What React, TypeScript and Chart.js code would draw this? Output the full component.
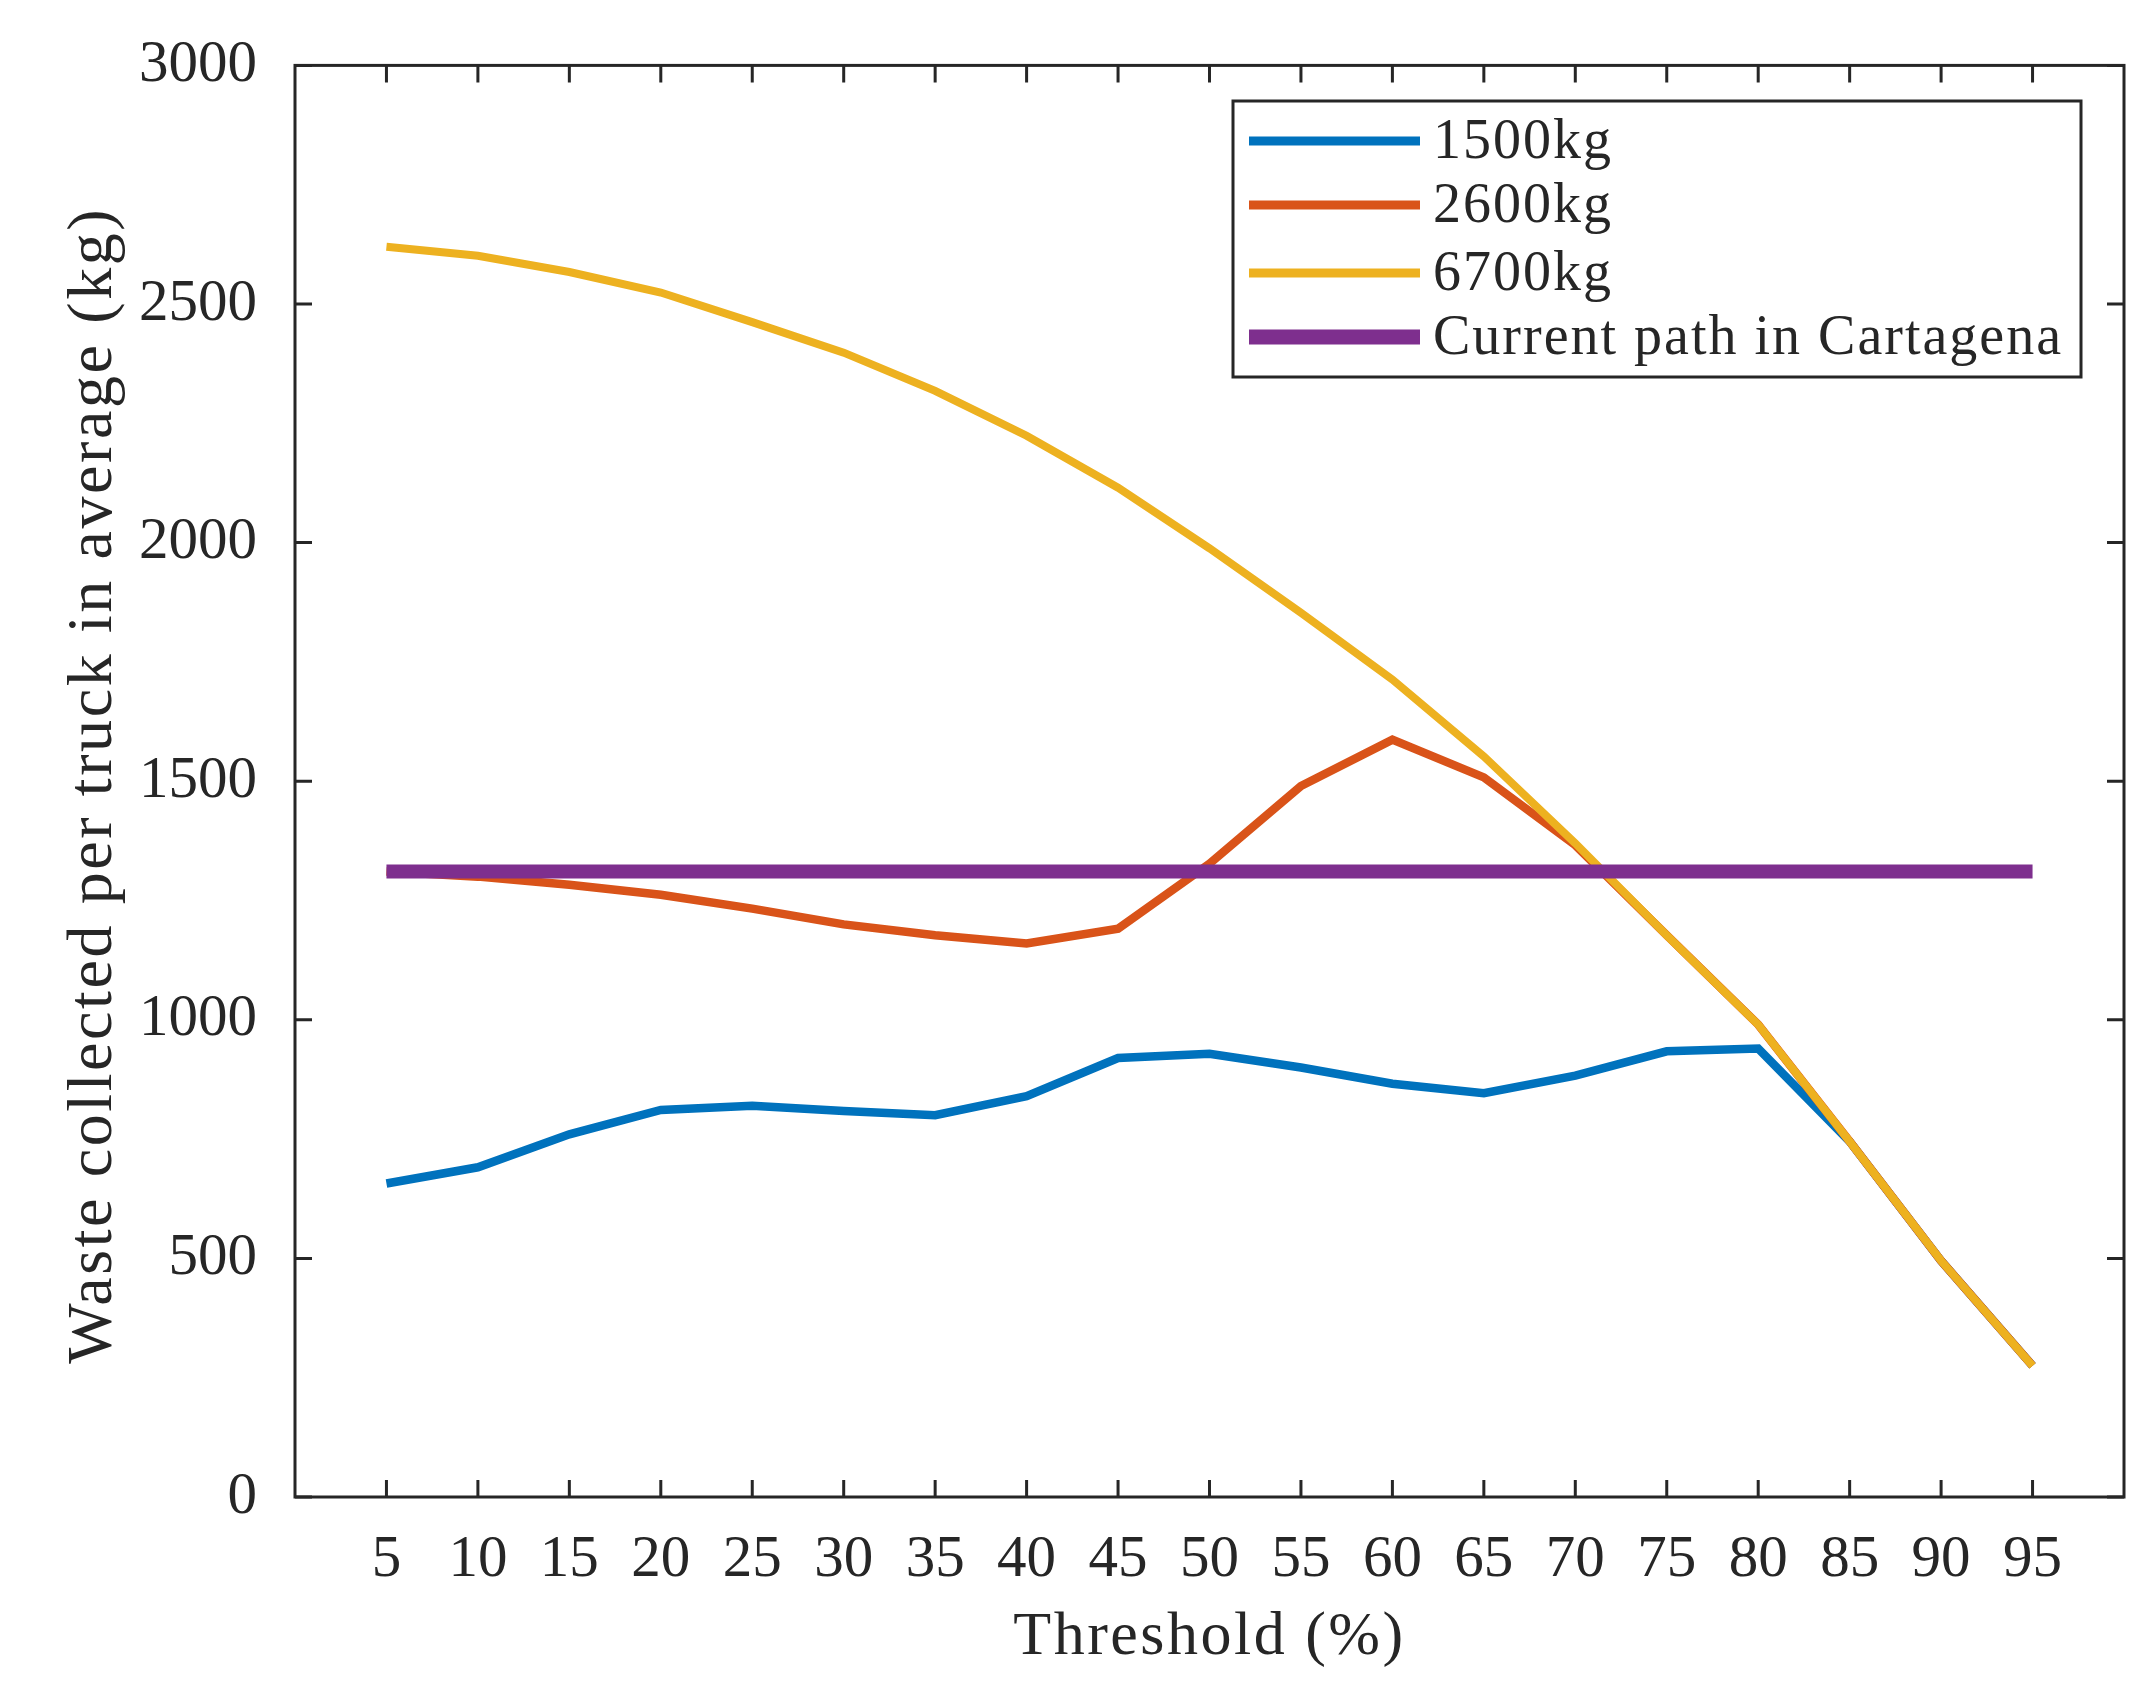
import React, { useEffect, useRef } from "react";
import { Chart, registerables } from "chart.js";

Chart.register(...registerables);

const thresholds = [5, 10, 15, 20, 25, 30, 35, 40, 45, 50, 55, 60, 65, 70, 75, 80, 85, 90, 95];
const truck1500 = [657, 691, 760, 811, 820, 809, 800, 840, 920, 929, 900, 866, 846, 883, 934, 940, 745, 495, 275];
const truck2600 = [1311, 1300, 1283, 1262, 1233, 1200, 1177, 1160, 1191, 1327, 1490, 1587, 1508, 1366, 1177, 990, 745, 495, 275];
const truck6700 = [2620, 2601, 2567, 2524, 2462, 2398, 2318, 2224, 2115, 1988, 1853, 1713, 1552, 1370, 1177, 990, 745, 495, 275];
const currentPath = [1311, 1311, 1311, 1311, 1311, 1311, 1311, 1311, 1311, 1311, 1311, 1311, 1311, 1311, 1311, 1311, 1311, 1311, 1311];
const yTicks = [0, 500, 1000, 1500, 2000, 2500, 3000];
const seriesLabels = ["1500kg", "2600kg", "6700kg", "Current path in Cartagena"];
const xTitle = "Threshold (%)";
const yTitle = "Waste collected per truck in average (kg)";

const W = 2150;
const H = 1695;
const FONT = "'Liberation Serif', 'DejaVu Serif', serif";
const INK = "#262626";

const toPoints = (ys: number[]) => thresholds.map((x, i) => ({ x, y: ys[i] }));

const framePlugin = {
  id: "frame",
  afterDatasetsDraw(chart: any) {
    const { ctx, chartArea: a, scales } = chart;
    const xs = scales.x;
    const ys = scales.y;
    const tl = 17;
    ctx.save();
    ctx.strokeStyle = INK;
    ctx.lineWidth = 3;
    ctx.beginPath();
    xs.ticks.forEach((t: any) => {
      const px = xs.getPixelForValue(t.value);
      ctx.moveTo(px, a.bottom);
      ctx.lineTo(px, a.bottom - tl);
      ctx.moveTo(px, a.top);
      ctx.lineTo(px, a.top + tl);
    });
    ys.ticks.forEach((t: any) => {
      const py = ys.getPixelForValue(t.value);
      ctx.moveTo(a.left, py);
      ctx.lineTo(a.left + tl, py);
      ctx.moveTo(a.right, py);
      ctx.lineTo(a.right - tl, py);
    });
    ctx.stroke();
    ctx.strokeRect(a.left, a.top, a.right - a.left, a.bottom - a.top);
    ctx.restore();
  },
  afterDraw(chart: any) {
    const { ctx, chartArea: a } = chart;
    const ds = chart.data.datasets;
    ctx.save();
    // axis titles
    ctx.fillStyle = INK;
    ctx.textAlign = "center";
    ctx.textBaseline = "middle";
    (ctx as any).letterSpacing = "2.5px";
    ctx.font = `62px ${FONT}`;
    ctx.fillText(xTitle, (a.left + a.right) / 2, 1638);
    ctx.save();
    ctx.translate(94, (a.top + a.bottom) / 2 + 4);
    ctx.rotate(-Math.PI / 2);
    (ctx as any).letterSpacing = "2.6px";
    ctx.font = `64px ${FONT}`;
    ctx.fillText(yTitle, 0, 0);
    ctx.restore();

    // legend
    const bx = 1233;
    const by = 101;
    const bw = 848;
    const bh = 276;
    ctx.fillStyle = "#ffffff";
    ctx.fillRect(bx, by, bw, bh);
    ctx.strokeStyle = INK;
    ctx.lineWidth = 3;
    ctx.strokeRect(bx, by, bw, bh);
    ctx.font = `56px ${FONT}`;
    (ctx as any).letterSpacing = "2px";
    ctx.textBaseline = "middle";
    ctx.textAlign = "left";
    const rows = [141, 205, 273, 337];
    ds.forEach((d: any, i: number) => {
      const y = rows[i];
      ctx.strokeStyle = d.borderColor;
      ctx.lineWidth = i === 3 ? 15 : 9;
      ctx.lineCap = "butt";
      ctx.beginPath();
      ctx.moveTo(1249, y);
      ctx.lineTo(1420, y);
      ctx.stroke();
      ctx.fillStyle = INK;
      ctx.fillText(d.label, 1433, y + 2);
    });
    ctx.restore();
  },
};

export default function App() {
  const ref = useRef<HTMLCanvasElement | null>(null);
  useEffect(() => {
    if (!ref.current) return;
    const chart = new Chart(ref.current, {
      type: "line",
      data: {
        datasets: [
          { label: seriesLabels[0], data: toPoints(truck1500), borderColor: "#0072BD", borderWidth: 8.5, order: 3 },
          { label: seriesLabels[1], data: toPoints(truck2600), borderColor: "#D95319", borderWidth: 8.5, order: 2 },
          { label: seriesLabels[2], data: toPoints(truck6700), borderColor: "#EDB120", borderWidth: 8, order: 1 },
          { label: seriesLabels[3], data: toPoints(currentPath), borderColor: "#7E2F8E", borderWidth: 14, order: 0 },
        ].map((d) => ({ ...d, pointRadius: 0, fill: false, tension: 0, borderJoinStyle: "miter" as const })),
      },
      options: {
        animation: false,
        responsive: false,
        devicePixelRatio: 1,
        layout: { padding: { left: 0, top: 57, right: 26, bottom: 0 } },
        plugins: { legend: { display: false }, tooltip: { enabled: false } },
        scales: {
          x: {
            type: "linear",
            min: 0,
            max: 100,
            grid: { display: false },
            border: { display: false },
            afterBuildTicks: (s: any) => {
              s.ticks = thresholds.map((v) => ({ value: v }));
            },
            afterFit: (s: any) => {
              s.height = 198;
            },
            ticks: {
              color: INK,
              font: { family: FONT, size: 59 },
              padding: 20,
              maxRotation: 0,
              autoSkip: false,
              callback: (v: any) => String(v),
            },
          },
          y: {
            type: "linear",
            min: 0,
            max: 3000,
            grid: { display: false },
            border: { display: false },
            afterBuildTicks: (s: any) => {
              s.ticks = yTicks.map((v) => ({ value: v }));
            },
            afterFit: (s: any) => {
              s.width = 295;
            },
            ticks: {
              color: INK,
              font: { family: FONT, size: 59 },
              padding: 30,
              callback: (v: any) => String(v),
            },
          },
        },
      },
      plugins: [framePlugin],
    });
    return () => chart.destroy();
  }, []);
  return (
    <div style={{ position: "fixed", left: 0, top: 0, width: W, height: H, background: "#ffffff" }}>
      <canvas ref={ref} width={W} height={H} style={{ width: W, height: H, display: "block" }} />
    </div>
  );
}
